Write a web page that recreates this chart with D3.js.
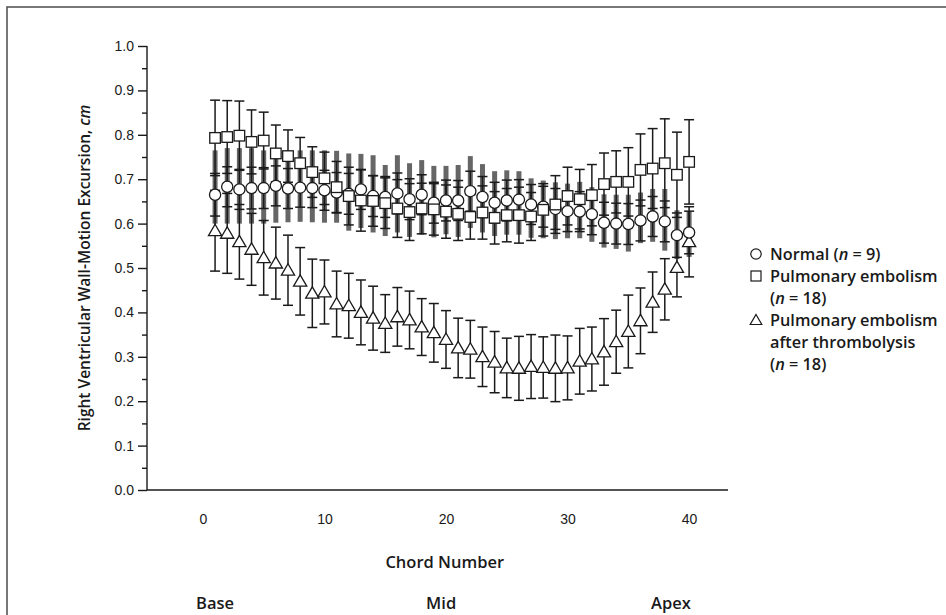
<!DOCTYPE html>
<html>
<head>
<meta charset="utf-8">
<script src="https://cdn.jsdelivr.net/npm/d3@7"></script>
<style>
  body { margin: 0; background: #fff; }
  svg { font-family: "Open Sans", "Noto Sans", sans-serif; }
</style>
</head>
<body>
<script>
// chord positions 1..40 (base -> apex)
var chords = [1, 2, 3, 4, 5, 6, 7, 8, 9, 10, 11, 12, 13, 14, 15, 16, 17, 18, 19, 20,
  21, 22, 23, 24, 25, 26, 27, 28, 29, 30, 31, 32, 33, 34, 35, 36, 37, 38, 39, 40];

// Normal (n = 9)
var normalMean = [0.665, 0.683, 0.677, 0.68, 0.68, 0.685, 0.679, 0.681, 0.68, 0.675,
  0.67, 0.667, 0.677, 0.662, 0.66, 0.668, 0.655, 0.665, 0.647, 0.652,
  0.652, 0.673, 0.66, 0.647, 0.652, 0.654, 0.643, 0.638, 0.633, 0.628,
  0.627, 0.621, 0.602, 0.6, 0.599, 0.607, 0.616, 0.605, 0.574, 0.58];
var normalSD = [0.048, 0.045, 0.045, 0.047, 0.046, 0.045, 0.045, 0.044, 0.044, 0.045,
  0.045, 0.046, 0.045, 0.046, 0.046, 0.046, 0.046, 0.045, 0.046, 0.046,
  0.045, 0.045, 0.046, 0.046, 0.046, 0.045, 0.045, 0.046, 0.046, 0.046,
  0.045, 0.046, 0.046, 0.046, 0.046, 0.046, 0.045, 0.046, 0.05, 0.048];
// grey band of the normal group
var normalBandHi = [0.765, 0.77, 0.77, 0.77, 0.765, 0.765, 0.765, 0.765, 0.765, 0.765,
  0.764, 0.758, 0.757, 0.754, 0.732, 0.754, 0.736, 0.743, 0.73, 0.73,
  0.732, 0.752, 0.734, 0.718, 0.72, 0.718, 0.702, 0.697, 0.693, 0.69,
  0.694, 0.682, 0.666, 0.665, 0.665, 0.67, 0.678, 0.678, 0.63, 0.627];
var normalBandLo = [0.6, 0.6, 0.6, 0.6, 0.6, 0.602, 0.603, 0.604, 0.603, 0.602,
  0.602, 0.584, 0.59, 0.58, 0.572, 0.58, 0.57, 0.575, 0.569, 0.576,
  0.57, 0.59, 0.58, 0.572, 0.575, 0.575, 0.568, 0.567, 0.565, 0.567,
  0.567, 0.559, 0.546, 0.543, 0.537, 0.556, 0.559, 0.539, 0.52, 0.525];

// Pulmonary embolism (n = 18)
var peMean = [0.793, 0.795, 0.798, 0.784, 0.787, 0.758, 0.752, 0.736, 0.716, 0.702,
  0.682, 0.662, 0.652, 0.651, 0.646, 0.634, 0.626, 0.634, 0.632, 0.627,
  0.622, 0.615, 0.625, 0.613, 0.619, 0.619, 0.616, 0.631, 0.643, 0.662,
  0.655, 0.664, 0.689, 0.694, 0.694, 0.721, 0.724, 0.736, 0.71, 0.739];
var peSD = [0.085, 0.082, 0.078, 0.072, 0.064, 0.064, 0.059, 0.058, 0.057, 0.059,
  0.058, 0.065, 0.069, 0.057, 0.057, 0.065, 0.064, 0.057, 0.058, 0.06,
  0.06, 0.05, 0.06, 0.059, 0.06, 0.063, 0.054, 0.059, 0.065, 0.065,
  0.067, 0.069, 0.07, 0.07, 0.077, 0.081, 0.09, 0.1, 0.096, 0.095];

// Pulmonary embolism after thrombolysis (n = 18)
var thrMean = [0.584, 0.578, 0.559, 0.542, 0.523, 0.511, 0.495, 0.47, 0.443, 0.446,
  0.419, 0.415, 0.4, 0.387, 0.375, 0.39, 0.383, 0.367, 0.354, 0.339,
  0.32, 0.317, 0.3, 0.288, 0.275, 0.274, 0.278, 0.276, 0.274, 0.275,
  0.29, 0.295, 0.311, 0.334, 0.357, 0.381, 0.423, 0.452, 0.501, 0.559];
var thrSD = [0.091, 0.09, 0.084, 0.081, 0.084, 0.081, 0.079, 0.076, 0.077, 0.072,
  0.074, 0.073, 0.073, 0.072, 0.065, 0.066, 0.065, 0.064, 0.066, 0.065,
  0.067, 0.065, 0.067, 0.069, 0.067, 0.072, 0.072, 0.069, 0.075, 0.072,
  0.074, 0.072, 0.075, 0.071, 0.082, 0.074, 0.068, 0.069, 0.066, 0.079];

var yTicks = [0, 0.1, 0.2, 0.3, 0.4, 0.5, 0.6, 0.7, 0.8, 0.9, 1.0];
var yMinor = [0.05, 0.15, 0.25, 0.35, 0.45, 0.55, 0.65, 0.75, 0.85, 0.95];
var xTicks = [0, 10, 20, 30, 40];
var regions = ["Base", "Mid", "Apex"];
var regionChord = [1, 19.6, 38.5];

var w = 946, h = 615;
var ink = "#1a1a1a";

var svg = d3.select("body").append("svg")
  .attr("width", w)
  .attr("height", h);

// frame
svg.append("rect")
  .attr("x", 7).attr("y", 7)
  .attr("width", 1000).attr("height", 1000)
  .attr("fill", "none")
  .attr("stroke", "#555")
  .attr("stroke-width", 1.6);

var x = d3.scaleLinear().domain([-4.6, 43.2]).range([147, 728]);
var y = d3.scaleLinear().domain([0, 1]).range([490, 46]);

// y axis
var yAxis = svg.append("g")
  .attr("transform", "translate(147,0)")
  .call(d3.axisLeft(y).tickValues(yTicks).tickSize(9).tickPadding(4).tickFormat(d3.format(".1f")));
yAxis.select(".domain").attr("d", "M0," + y(1) + "V" + y(0));
svg.append("g")
  .attr("transform", "translate(147,0)")
  .call(d3.axisLeft(y).tickValues(yMinor).tickSize(5).tickFormat(""))
  .select(".domain").remove();

// x axis (no ticks)
var xAxis = svg.append("g")
  .attr("transform", "translate(0," + y(0) + ")")
  .call(d3.axisBottom(x).tickValues(xTicks).tickSize(0).tickPadding(24));
xAxis.select(".domain").attr("d", "M147,0H728");

svg.selectAll(".tick text")
  .attr("fill", ink)
  .style("font-size", "14px");
svg.selectAll(".tick line, .domain")
  .attr("stroke", ink)
  .attr("stroke-width", 1.4);

// axis titles
svg.append("text")
  .attr("transform", "translate(90," + ((y(0) + y(1)) / 2) + ") rotate(-90)")
  .attr("text-anchor", "middle")
  .style("font-size", "15.5px")
  .style("font-weight", 600)
  .attr("fill", ink)
  .call(function(t) {
    t.append("tspan").text("Right Ventricular Wall-Motion Excursion, ");
    t.append("tspan").style("font-style", "italic").text("cm");
  });

svg.append("text")
  .attr("x", x(19.9)).attr("y", 568)
  .attr("text-anchor", "middle")
  .style("font-size", "16.5px")
  .style("font-weight", 600)
  .attr("fill", ink)
  .text("Chord Number");

svg.selectAll(".region")
  .data(regions)
  .enter()
  .append("text")
  .attr("class", "region")
  .attr("x", function(d, i) { return x(regionChord[i]); })
  .attr("y", 609)
  .attr("text-anchor", "middle")
  .style("font-size", "16.5px")
  .style("font-weight", 600)
  .attr("fill", ink)
  .text(function(d) { return d; });

// grey bands of normal group
svg.append("g").selectAll("rect")
  .data(chords)
  .enter()
  .append("rect")
  .attr("x", function(d) { return x(d) - 2.5; })
  .attr("width", 5)
  .attr("y", function(d, i) { return y(normalBandHi[i]); })
  .attr("height", function(d, i) { return y(normalBandLo[i]) - y(normalBandHi[i]); })
  .attr("fill", "#666");

// error bars
function errorBars(mean, sd) {
  var g = svg.append("g")
    .attr("stroke", ink)
    .attr("stroke-width", 1.5);
  var bars = g.selectAll("g")
    .data(chords)
    .enter()
    .append("g");
  bars.append("line")
    .attr("x1", function(d) { return x(d); })
    .attr("x2", function(d) { return x(d); })
    .attr("y1", function(d, i) { return y(mean[i] + sd[i]); })
    .attr("y2", function(d, i) { return y(mean[i] - sd[i]); });
  [1, -1].forEach(function(s) {
    bars.append("line")
      .attr("x1", function(d) { return x(d) - 5; })
      .attr("x2", function(d) { return x(d) + 5; })
      .attr("y1", function(d, i) { return y(mean[i] + s * sd[i]); })
      .attr("y2", function(d, i) { return y(mean[i] + s * sd[i]); });
  });
}
errorBars(thrMean, thrSD);
errorBars(normalMean, normalSD);
errorBars(peMean, peSD);

var triPath = "M0,-6.5L6.6,4.9L-6.6,4.9Z";

function markers(mean, kind) {
  var g = svg.append("g")
    .attr("fill", "#fff")
    .attr("stroke", ink)
    .attr("stroke-width", 1.3);
  var sel = g.selectAll("path")
    .data(chords)
    .enter();
  if (kind == "circle") {
    sel.append("circle")
      .attr("cx", function(d) { return x(d); })
      .attr("cy", function(d, i) { return y(mean[i]); })
      .attr("r", 5.6);
  } else if (kind == "square") {
    sel.append("rect")
      .attr("x", function(d) { return x(d) - 5.3; })
      .attr("y", function(d, i) { return y(mean[i]) - 5.3; })
      .attr("width", 10.6)
      .attr("height", 10.6);
  } else {
    sel.append("path")
      .attr("d", triPath)
      .attr("transform", function(d, i) { return "translate(" + x(d) + "," + y(mean[i]) + ")"; });
  }
}
markers(thrMean, "triangle");
markers(normalMean, "circle");
markers(peMean, "square");

// legend
var legendRows = [
  { sym: "circle", parts: [["Normal (", false], ["n", true], [" = 9)", false]] },
  { sym: "square", parts: [["Pulmonary embolism", false]] },
  { sym: null, parts: [["(", false], ["n", true], [" = 18)", false]] },
  { sym: "triangle", parts: [["Pulmonary embolism", false]] },
  { sym: null, parts: [["after thrombolysis", false]] },
  { sym: null, parts: [["(", false], ["n", true], [" = 18)", false]] }
];
var legend = svg.append("g").attr("transform", "translate(756,254)");
legendRows.forEach(function(r, i) {
  var cy = i * 22;
  if (r.sym == "circle") {
    legend.append("circle").attr("cx", 0).attr("cy", cy).attr("r", 5.2)
      .attr("fill", "none").attr("stroke", ink).attr("stroke-width", 1.2);
  } else if (r.sym == "square") {
    legend.append("rect").attr("x", -5).attr("y", cy - 5).attr("width", 10).attr("height", 10)
      .attr("fill", "none").attr("stroke", ink).attr("stroke-width", 1.2);
  } else if (r.sym == "triangle") {
    legend.append("path").attr("d", "M0,-5.5L5.8,4.5L-5.8,4.5Z")
      .attr("transform", "translate(0," + cy + ")")
      .attr("fill", "none").attr("stroke", ink).attr("stroke-width", 1.2);
  }
  var t = legend.append("text")
    .attr("x", 14).attr("y", cy + 6)
    .style("font-size", "16.3px")
    .style("font-weight", 600)
    .attr("fill", ink);
  r.parts.forEach(function(p) {
    t.append("tspan").style("font-style", p[1] ? "italic" : "normal").text(p[0]);
  });
});
</script>
</body>
</html>
